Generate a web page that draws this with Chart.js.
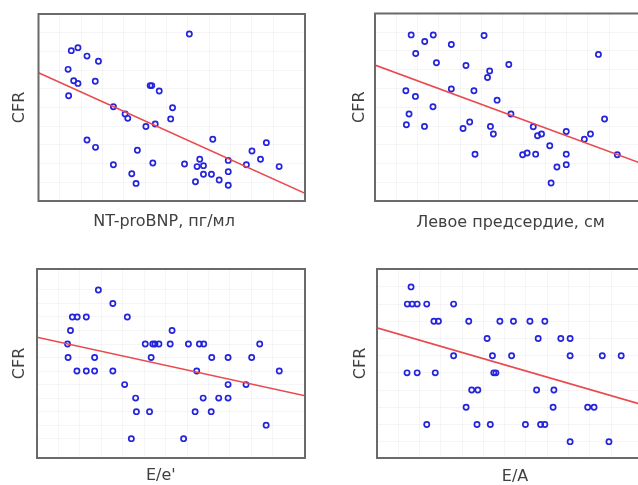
<!DOCTYPE html>
<html><head><meta charset="utf-8">
<script src="https://cdn.jsdelivr.net/npm/chart.js@4.4.0/dist/chart.umd.min.js"></script>
<style>
html,body{margin:0;padding:0;background:#fff;overflow:hidden;width:638px;height:485px;}
.p{position:absolute;}
</style></head><body>
<div class="p" style="left:0px;top:0px"><canvas id="c1" width="330" height="245"></canvas></div>
<div class="p" style="left:330px;top:0px"><canvas id="c2" width="330" height="245"></canvas></div>
<div class="p" style="left:0px;top:245px"><canvas id="c3" width="330" height="245"></canvas></div>
<div class="p" style="left:330px;top:245px"><canvas id="c4" width="330" height="245"></canvas></div>
<script>
// Panel labels
const yLabel = "CFR";
const xLabels = ["NT-proBNP, пг/мл", "Левое предсердие, см", "E/e'", "E/A"];

// Panel 1: NT-proBNP (relative units 0-100) vs CFR (relative units 0-100)
const p1x = [56.6,12.3,14.8,18.2,22.5,11.1,13.2,14.8,21.3,11.3,41.9,42.5,45.3,28.1,50.3,32.5,33.5,49.6,40.3,43.8,18.2,21.4,65.4,85.5,37.1,80.1,83.3,60.5,71.2,28.1,42.9,54.8,59.5,61.9,78.0,90.3,35.0,61.9,64.9,71.2,36.6,58.9,67.8,71.2];
const p1y = [89.3,80.4,82.0,77.5,74.7,70.4,64.3,62.9,64.0,56.3,61.7,61.7,58.8,50.4,49.9,46.5,44.2,43.9,39.8,41.2,32.6,28.7,33.0,31.2,27.1,26.7,22.3,22.3,21.7,19.4,20.3,19.8,18.4,18.9,19.4,18.4,14.6,14.3,14.3,15.7,9.4,10.3,11.2,8.4];
const p1fit = [68.6, 4.1];

// Panel 2: left atrium (relative units) vs CFR (relative units)
const p2x = [13.6,21.9,41.0,18.7,28.7,15.3,84.0,23.1,34.2,50.3,43.1,42.3,11.6,28.7,37.2,15.2,45.9,21.8,12.8,51.1,11.8,18.6,33.1,35.6,43.4,44.5,86.3,59.5,61.1,62.6,71.9,78.7,81.0,65.7,37.6,55.5,57.2,60.4,71.9,91.1,68.4,71.9,66.2];
const p2y = [88.6,88.5,88.3,85.1,83.5,78.7,78.2,73.7,72.3,72.8,69.4,65.9,58.8,59.7,58.8,55.8,53.8,50.3,46.4,46.4,40.7,39.8,38.7,42.1,39.8,35.7,43.7,39.6,34.8,35.7,37.1,32.9,35.7,29.5,24.9,24.7,25.6,25.0,25.0,24.7,18.1,19.4,9.6];
const p2fit = [72.5, 20.1];

// Panel 3: E/e' (relative units) vs CFR
const p3x = [22.9,28.3,13.2,15.0,18.4,33.7,12.5,50.4,11.4,40.4,43.2,44.0,45.5,49.7,56.5,60.6,62.2,83.1,11.6,21.5,42.6,65.2,71.3,80.1,14.9,18.4,21.5,28.3,59.6,90.4,32.7,71.3,78.0,36.8,62.0,67.8,71.3,37.1,42.0,59.0,65.0,85.5,35.2,54.7];
const p3y = [2.5,2.4,2.3,2.3,2.3,2.3,2.2,2.2,2.1,2.1,2.1,2.1,2.1,2.1,2.1,2.1,2.1,2.1,2.0,2.0,2.0,2.0,2.0,2.0,1.9,1.9,1.9,1.9,1.9,1.9,1.8,1.8,1.8,1.7,1.7,1.7,1.7,1.6,1.6,1.6,1.6,1.5,1.4,1.4];
const p3fit = [2.150, 1.717];

// Panel 4: E/A (relative units) vs CFR
const p4x = [12.8,11.4,13.2,15.1,18.7,28.8,21.4,23.1,34.5,46.2,51.3,57.5,63.1,41.4,60.6,69.1,72.6,28.8,43.4,50.6,72.6,84.7,91.8,11.3,15.1,21.9,43.9,44.7,35.6,37.9,60.0,66.5,33.5,66.2,79.2,81.6,18.7,37.6,42.6,55.8,61.5,63.1,72.6,87.2];
const p4y = [2.3,2.2,2.2,2.2,2.2,2.2,2.1,2.1,2.1,2.1,2.1,2.1,2.1,2.0,2.0,2.0,2.0,1.9,1.9,1.9,1.9,1.9,1.9,1.8,1.8,1.8,1.8,1.8,1.7,1.7,1.7,1.7,1.6,1.6,1.6,1.6,1.5,1.5,1.5,1.5,1.5,1.5,1.4,1.4];
const p4fit = [2.062, 1.614];

const xRange = [0, 100];
const yRanges = [[0,100],[0,100],[1.257,2.655],[1.305,2.404]];
const yStep = [10, 10, 0.1, 0.1];

const frame = {
  id: 'frame',
  afterDraw(chart) {
    const a = chart.chartArea, ctx = chart.ctx;
    ctx.save();
    ctx.strokeStyle = '#6a6a6a';
    ctx.lineWidth = 2;
    ctx.strokeRect(a.left, a.top, a.right - a.left, a.bottom - a.top);
    ctx.restore();
  }
};

const layouts = [
  {pad:{left:10.5, top:14, right:25, bottom:14}, yPad:10, xPad:12, xText:xLabels[0] + "   "},
  {pad:{left:20.7, top:13.5, right:19, bottom:13}, yPad:6.3, xPad:13, xText:" " + xLabels[1]},
  {pad:{left:10.5, top:24, right:25, bottom:5.5}, yPad:8.5, xPad:8.5, xText:xLabels[2] + "    "},
  {pad:{left:21.5, top:24, right:17, bottom:4}, yPad:7.5, xPad:10, xText:"  " + xLabels[3]}
];

function pts(xs, ys) { return xs.map((x, i) => ({x: x, y: ys[i]})); }

function makeChart(id, idx, xs, ys, fit) {
  const L = layouts[idx];
  const font = {family: "'DejaVu Sans', sans-serif", size: 16, lineHeight: 1.125};
  new Chart(document.getElementById(id), {
    type: 'scatter',
    data: {
      datasets: [
        {data: pts(xs, ys), pointRadius: 2.6, pointBorderWidth: 1.7, borderColor: '#2424dd', backgroundColor: 'rgba(255,255,255,0)', pointHoverRadius: 2.6, order: 2},
        {type: 'line', data: pts(xRange, fit), borderColor: '#ea4a4e', borderWidth: 1.6, pointRadius: 0, fill: false, order: 1}
      ]
    },
    options: {
      responsive: false, animation: false, devicePixelRatio: 1,
      layout: {padding: L.pad},
      plugins: {legend: {display: false}, tooltip: {enabled: false}},
      scales: {
        x: {type: 'linear', min: xRange[0], max: xRange[1],
            ticks: {display: false, stepSize: 8},
            grid: {color: 'rgba(0,0,40,0.04)', drawTicks: false, lineWidth: 1},
            border: {display: false},
            title: {display: true, text: L.xText, color: '#404040', font: font, padding: {top: L.xPad, bottom: 0}}},
        y: {type: 'linear', min: yRanges[idx][0], max: yRanges[idx][1],
            ticks: {display: false, stepSize: yStep[idx]},
            grid: {color: 'rgba(0,0,40,0.04)', drawTicks: false, lineWidth: 1},
            border: {display: false},
            title: {display: true, text: yLabel, color: '#404040', font: font, padding: {top: 0, bottom: L.yPad}}}
      }
    },
    plugins: [frame]
  });
}

function drawAll() {
  makeChart('c1', 0, p1x, p1y, p1fit);
  makeChart('c2', 1, p2x, p2y, p2fit);
  makeChart('c3', 2, p3x, p3y, p3fit);
  makeChart('c4', 3, p4x, p4y, p4fit);
}
if (document.fonts && document.fonts.load) {
  document.fonts.load("16px 'DejaVu Sans'").then(drawAll, drawAll);
} else { drawAll(); }
</script>
</body></html>
